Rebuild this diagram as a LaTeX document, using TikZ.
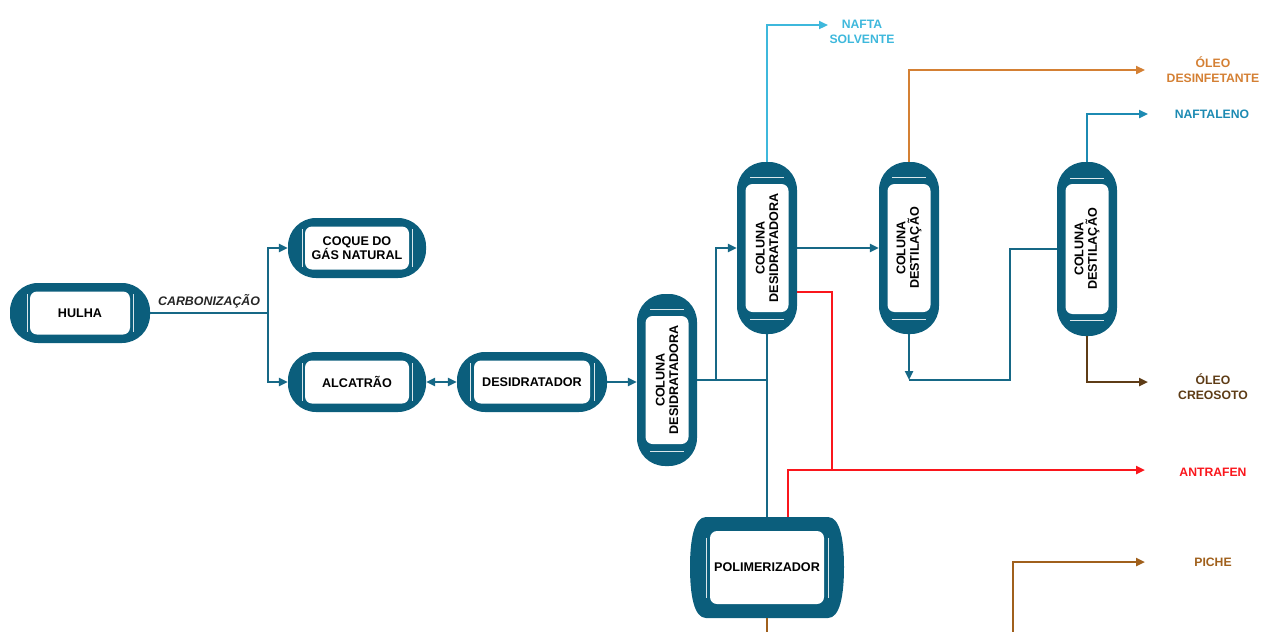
\documentclass[tikz,border=0pt]{standalone}
\usepackage{fontspec}
\setmainfont{Liberation Sans}
\usetikzlibrary{arrows.meta,calc}

\definecolor{vesselblue}{RGB}{11,94,124}
\definecolor{lineblue}{RGB}{22,104,134}
\definecolor{naftacyan}{RGB}{62,184,220}
\definecolor{oleoorange}{RGB}{212,128,52}
\definecolor{naftteal}{RGB}{28,138,178}
\definecolor{creobrown}{RGB}{94,60,22}
\definecolor{antrared}{RGB}{250,22,28}
\definecolor{pichebrown}{RGB}{160,96,28}

\tikzset{
  >={Triangle[length=9pt,width=8pt]},
  vessel/.style={fill=vesselblue, rounded corners=28pt, inner sep=0pt},
  inbox/.style={fill=white, rounded corners=7pt, inner sep=0pt, align=center,
    font=\bfseries\fontsize{12.6}{13.5}\selectfont},
  seam/.style={draw=white!85!vesselblue, line width=0.9pt},
  pipe/.style={line width=2.9pt},
  flow/.style={line width=2.9pt, ->},
  prod/.style={font=\bfseries\fontsize{12.2}{15}\selectfont, align=center},
}

\begin{document}
\begin{tikzpicture}[x=1pt,y=-1pt]
  \useasboundingbox (0,0) rectangle (1262,632);

  % horizontal vessels
  \node[vessel, minimum width=140pt, minimum height=60pt] (hulha) at (80,313) {};
  \node[inbox, minimum width=100pt, minimum height=43pt] at (hulha) {HULHA};
  \node[vessel, minimum width=138pt, minimum height=60pt] (coque) at (357,248) {};
  \node[inbox, minimum width=104pt, minimum height=43pt] at (coque) {COQUE DO\\GÁS NATURAL};
  \node[vessel, minimum width=138pt, minimum height=60pt] (alcatrao) at (357,382) {};
  \node[inbox, minimum width=104pt, minimum height=43pt] at (alcatrao) {ALCATRÃO};
  \node[vessel, minimum width=150pt, minimum height=60pt] (desid) at (532,382) {};
  \node[inbox, minimum width=116pt, minimum height=43pt] at (desid) {DESIDRATADOR};
  \foreach \v/\d in {hulha/53, coque/55, alcatrao/55, desid/62}
    \foreach \s in {-1,1}
      \draw[seam] ($(\v)+({\s*\d},-19)$) -- ++(0,38);

  % columns
  \node[vessel, minimum width=60pt, minimum height=172pt] (col1) at (667,380) {};
  \node[inbox, rotate=90, minimum width=128pt, minimum height=43pt] at (col1) {COLUNA\\DESIDRATADORA};
  \node[vessel, minimum width=60pt, minimum height=172pt] (col2) at (767,248) {};
  \node[inbox, rotate=90, minimum width=128pt, minimum height=43pt] at (col2) {COLUNA\\DESIDRATADORA};
  \node[vessel, minimum width=60pt, minimum height=172pt] (dest1) at (909,248) {};
  \node[inbox, rotate=90, minimum width=128pt, minimum height=43pt] at (dest1) {COLUNA\\DESTILAÇÃO};
  \node[vessel, minimum width=60pt, minimum height=174pt] (dest2) at (1087,249) {};
  \node[inbox, rotate=90, minimum width=130pt, minimum height=43pt] at (dest2) {COLUNA\\DESTILAÇÃO};
  \foreach \v in {col1, col2, dest1, dest2}
    \foreach \s in {-1,1}
      \draw[seam] ($(\v)+(-17,{\s*71})$) -- ++(34,0);

  % polimerizador (barrel)
  \fill[vesselblue] (706,517) -- (828,517)
    .. controls (840,517) and (844,540) .. (844,567)
    .. controls (844,595) and (840,618) .. (828,618) -- (706,618)
    .. controls (694,618) and (690,595) .. (690,567)
    .. controls (690,540) and (694,517) .. (706,517) -- cycle;
  \node[minimum width=154pt, minimum height=101pt, inner sep=0pt] (polim) at (767,567.5) {};
  \node[inbox, minimum width=114pt, minimum height=73pt] at (polim) {POLIMERIZADOR};
  \foreach \s in {-1,1}
    \draw[seam] ($(polim)+({\s*61},-30)$) -- ++(0,60);

  % carbonizacao
  \coordinate (split1) at (268,313);
  \draw[pipe, lineblue] (hulha.east) -- node[above, text=black!85,
    font=\bfseries\itshape\fontsize{12.4}{14}\selectfont] {CARBONIZAÇÃO} (split1);
  \draw[flow, lineblue] (split1) |- (coque.west);
  \draw[flow, lineblue] (split1) |- (alcatrao.west);
  \draw[pipe, lineblue, <->] (alcatrao.east) -- (desid.west);
  \draw[flow, lineblue] (desid.east) -- (desid.east -| col1.west);

  % desidratacao
  \coordinate (split2) at (716,380);
  \draw[pipe, lineblue] (col1.east) -- (col1.east -| col2.south);
  \draw[flow, lineblue] (split2) |- (col2.west);
  \draw[pipe, lineblue] (col2.south) -- (polim.north);
  \draw[flow, lineblue] (col2.east) -- (dest1.west);

  % destilacao
  \coordinate (dest1low) at (909,380);
  \coordinate (riser) at (1010,380);
  \draw[flow, lineblue] (dest1.south) -- (dest1low);
  \draw[pipe, lineblue] (dest1low) -- (riser) |- (dest2.west);

  % products
  \coordinate (naftaend) at (828,25);
  \coordinate (oleoend) at (1145,70);
  \coordinate (naftalenoend) at (1148,114);
  \coordinate (creoend) at (1148,382);
  \coordinate (redjoin) at (832,470);
  \coordinate (antraend) at (1145,470);
  \coordinate (pichebase) at (1013,634);
  \coordinate (picheend) at (1145,562);

  \draw[flow, naftacyan] (col2.north) |- (naftaend);
  \draw[flow, oleoorange] (dest1.north) |- (oleoend);
  \draw[flow, naftteal] (dest2.north) |- (naftalenoend);
  \draw[flow, creobrown] (dest2.south) |- (creoend);
  \draw[pipe, antrared] ($(col2.east)+(0,44)$) -| (redjoin);
  \draw[flow, antrared] ($(polim.north)+(21,0)$) |- (redjoin) -- (antraend);
  \draw[flow, pichebrown] (polim.south) |- (pichebase) |- (picheend);

  \node[prod, text=naftacyan] (nafta) at (862,32) {NAFTA\\SOLVENTE};
  \node[prod, text=oleoorange] (desinf) at (1213,70) {ÓLEO\\DESINFETANTE};
  \node[prod, text=naftteal] (naftaleno) at (1212,114) {NAFTALENO};
  \node[prod, text=creobrown] (creosoto) at (1213,387) {ÓLEO\\CREOSOTO};
  \node[prod, text=antrared] (antrafen) at (1213,472) {ANTRAFEN};
  \node[prod, text=pichebrown] (piche) at (1213,562) {PICHE};
\end{tikzpicture}
\end{document}
